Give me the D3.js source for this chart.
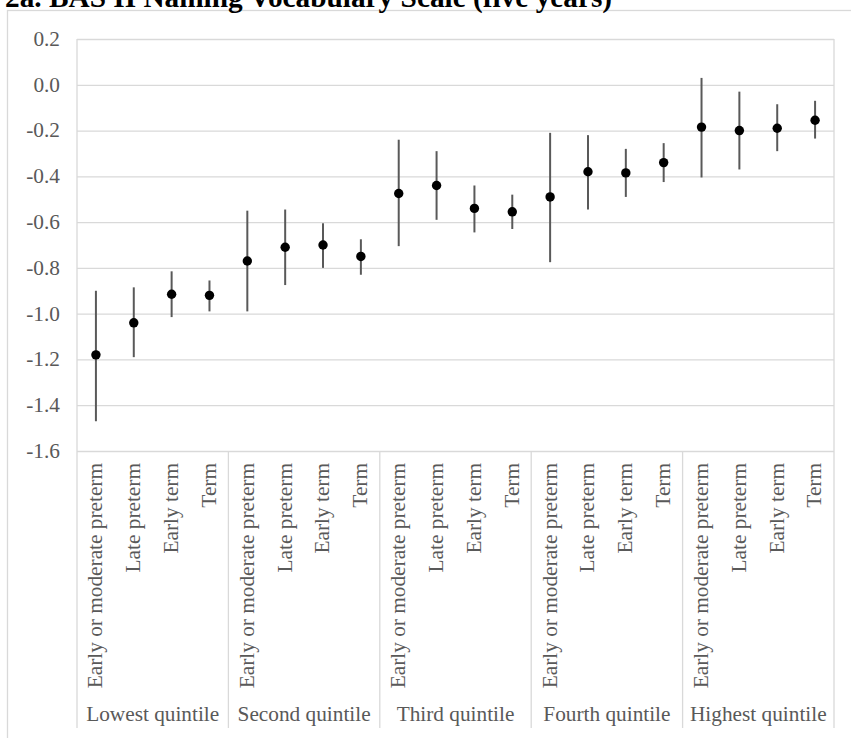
<!DOCTYPE html>
<html>
<head>
<meta charset="utf-8">
<script src="https://cdn.jsdelivr.net/npm/d3@7"></script>
<style>
  html, body { margin: 0; padding: 0; background: #fff; }
  svg { display: block; }
  text { font-family: "Liberation Serif", "Times New Roman", serif; }
</style>
</head>
<body>
<svg id="chart" width="851" height="738"></svg>
<script>
// Quintile groups and gestational-age categories within each group
const groups = ["Lowest quintile", "Second quintile", "Third quintile", "Fourth quintile", "Highest quintile"];
const categories = ["Early or moderate preterm", "Late preterm", "Early term", "Term"];

// Point estimates and 95% confidence limits, in group order, four categories each
const estimate = [-1.18, -1.04, -0.915, -0.92,
                  -0.77, -0.71, -0.70, -0.75,
                  -0.475, -0.44, -0.54, -0.555,
                  -0.49, -0.38, -0.385, -0.34,
                  -0.185, -0.20, -0.19, -0.155];
const lower = [-1.47, -1.19, -1.015, -0.99,
               -0.99, -0.875, -0.80, -0.83,
               -0.705, -0.59, -0.645, -0.63,
               -0.775, -0.545, -0.49, -0.425,
               -0.405, -0.37, -0.29, -0.235];
const upper = [-0.90, -0.885, -0.815, -0.855,
               -0.55, -0.545, -0.605, -0.675,
               -0.24, -0.29, -0.44, -0.48,
               -0.21, -0.22, -0.28, -0.255,
               0.03, -0.03, -0.085, -0.07];

// Value-axis ticks
const yTicks = [0.2, 0.0, -0.2, -0.4, -0.6, -0.8, -1.0, -1.2, -1.4, -1.6];

const title = "2a. BAS II Naming Vocabulary Scale (five years)";

const rows = [];
groups.forEach((g, gi) => categories.forEach((c, ci) => {
  const i = gi * categories.length + ci;
  rows.push({ key: g + "|" + c, group: g, cat: c, est: estimate[i], lo: lower[i], hi: upper[i] });
}));

const svg = d3.select("#chart");
const plot = { left: 77, right: 834, top: 39, bottom: 451 };
const axisBottom = 728;
const gridColor = "#d9d9d9";
const textColor = "#595959";

// Outer chart-area frame
svg.append("rect")
  .attr("x", 7.5).attr("y", 10.5)
  .attr("width", 900).attr("height", 800)
  .attr("fill", "none").attr("stroke", gridColor).attr("stroke-width", 1.3);

// Title (sits above the frame)
svg.append("text")
  .attr("x", 5).attr("y", 6.5)
  .attr("font-size", "29.3px").attr("font-weight", "bold").attr("fill", "#000")
  .text(title);

const x = d3.scaleBand()
  .domain(rows.map(d => d.key))
  .range([plot.left, plot.right])
  .paddingInner(0).paddingOuter(0);

const y = d3.scaleLinear()
  .domain([-1.6, 0.2])
  .range([plot.bottom, plot.top]);

const fmt = d3.formatLocale({ decimal: ".", thousands: ",", grouping: [3], currency: ["", ""], minus: "-" }).format(".1f");

// Gridlines and value labels
const yAxis = d3.axisLeft(y)
  .tickValues(yTicks)
  .tickSize(-(plot.right - plot.left))
  .tickPadding(17)
  .tickFormat(fmt);

const gy = svg.append("g")
  .attr("transform", `translate(${plot.left},0)`)
  .call(yAxis);
gy.select(".domain").remove();
gy.selectAll(".tick line").attr("stroke", gridColor).attr("stroke-width", 1.3);
gy.selectAll(".tick text")
  .attr("fill", textColor)
  .attr("font-size", "21.3px")
  .attr("font-family", "'Liberation Serif', 'Times New Roman', serif")
  .attr("dy", "0.3em");

// Plot-area sides and group separators through the category axis
const bounds = groups.map((g, gi) => x(g + "|" + categories[0]));
bounds.push(plot.right);
svg.append("g").selectAll("line")
  .data(bounds)
  .join("line")
  .attr("x1", d => d).attr("x2", d => d)
  .attr("y1", (d, i) => (i === 0 || i === bounds.length - 1) ? plot.top : plot.bottom)
  .attr("y2", axisBottom)
  .attr("stroke", gridColor).attr("stroke-width", 1.3);

// Category labels (rotated)
svg.append("g").selectAll("text")
  .data(rows)
  .join("text")
  .attr("transform", d => `translate(${x(d.key) + x.bandwidth() / 2},463) rotate(-90)`)
  .attr("text-anchor", "end")
  .attr("dy", "0.3em")
  .attr("font-size", "21.3px")
  .attr("fill", textColor)
  .text(d => d.cat);

// Group labels
svg.append("g").selectAll("text")
  .data(groups)
  .join("text")
  .attr("x", (g, gi) => (bounds[gi] + bounds[gi + 1]) / 2)
  .attr("y", 721)
  .attr("text-anchor", "middle")
  .attr("font-size", "21.3px")
  .attr("fill", textColor)
  .text(g => g);

// Confidence intervals
svg.append("g").selectAll("line")
  .data(rows)
  .join("line")
  .attr("x1", d => x(d.key) + x.bandwidth() / 2)
  .attr("x2", d => x(d.key) + x.bandwidth() / 2)
  .attr("y1", d => y(d.lo))
  .attr("y2", d => y(d.hi))
  .attr("stroke", "#595959")
  .attr("stroke-width", 2);

// Point estimates
svg.append("g").selectAll("circle")
  .data(rows)
  .join("circle")
  .attr("cx", d => x(d.key) + x.bandwidth() / 2)
  .attr("cy", d => y(d.est))
  .attr("r", 4.7)
  .attr("fill", "#000");
</script>
</body>
</html>
